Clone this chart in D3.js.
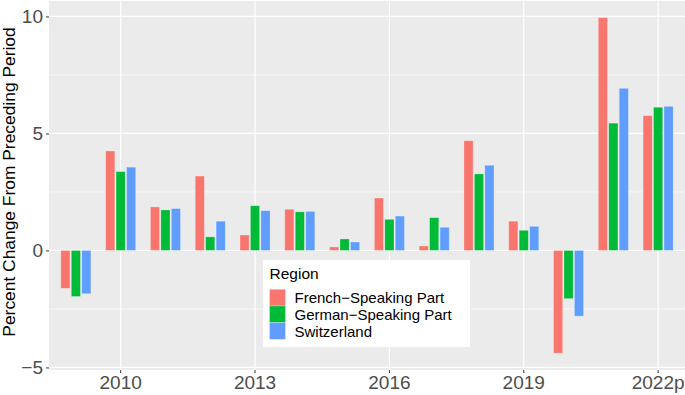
<!DOCTYPE html>
<html lang="en">
<head>
<meta charset="UTF-8">
<script src="https://d3js.org/d3.v7.min.js"></script>
<title>Percent Change by Region</title>
<style>
  body { margin: 0; background: #fff; }
  text { font-family: "Liberation Sans", Arial, sans-serif; }
</style>
</head>
<body>
<svg id="chart" width="685" height="395"></svg>
<script>
// data
var years = ["2009","2010","2011","2012","2013","2014","2015","2016","2017","2018","2019","2020","2021","2022p"];
var regions = ["French\u2212Speaking Part", "German\u2212Speaking Part", "Switzerland"];
var french = [-1.62, 4.25, 1.86, 3.18, 0.66, 1.76, 0.15, 2.24, 0.19, 4.69, 1.25, -4.39, 9.95, 5.76];
var german = [-1.97, 3.37, 1.73, 0.58, 1.91, 1.65, 0.49, 1.33, 1.40, 3.27, 0.86, -2.06, 5.44, 6.12];
var swiss  = [-1.85, 3.56, 1.79, 1.25, 1.70, 1.67, 0.36, 1.47, 0.99, 3.64, 1.03, -2.81, 6.93, 6.16];
var xTicks = ["2010","2013","2016","2019","2022p"];
var yTicks = [-5, 0, 5, 10];
var yMinor = [-2.5, 2.5, 7.5];
var colors = ["#F8766D", "#00BA38", "#619CFF"];

var series = [french, german, swiss];

var svg = d3.select("#chart");
var panel = {left: 49, right: 685, top: 1, bottom: 370};

var x = d3.scaleBand()
    .domain(years)
    .range([panel.left, panel.right])
    .paddingInner(0)
    .paddingOuter(0.1);

var dodge = x.bandwidth() * 0.7;
var x1 = d3.scaleBand()
    .domain(d3.range(regions.length))
    .range([-dodge / 2, dodge / 2])
    .paddingInner(0.12)
    .paddingOuter(0.06);

var y = d3.scaleLinear()
    .domain([-5.11, 10.66])
    .range([panel.bottom, panel.top]);

// panel background
svg.append("rect")
  .attr("x", panel.left).attr("y", panel.top)
  .attr("width", panel.right - panel.left)
  .attr("height", panel.bottom - panel.top)
  .attr("fill", "#EBEBEB");

// grid
var grid = svg.append("g");
grid.selectAll(".minor").data(yMinor).enter().append("line")
  .attr("x1", panel.left).attr("x2", panel.right)
  .attr("y1", d => y(d)).attr("y2", d => y(d))
  .attr("stroke", "#fff").attr("stroke-width", 0.6);
grid.selectAll(".major").data(yTicks).enter().append("line")
  .attr("x1", panel.left).attr("x2", panel.right)
  .attr("y1", d => y(d)).attr("y2", d => y(d))
  .attr("stroke", "#fff").attr("stroke-width", 1.2);
grid.selectAll(".vmajor").data(xTicks).enter().append("line")
  .attr("x1", d => x(d) + x.bandwidth() / 2).attr("x2", d => x(d) + x.bandwidth() / 2)
  .attr("y1", panel.top).attr("y2", panel.bottom)
  .attr("stroke", "#fff").attr("stroke-width", 1.2);

// bars
var rows = [];
years.forEach(function(yr, i) {
  series.forEach(function(s, j) {
    rows.push({year: yr, k: j, v: s[i]});
  });
});

svg.append("g").selectAll("rect")
  .data(rows).enter().append("rect")
  .attr("x", d => x(d.year) + x.bandwidth() / 2 + x1(d.k))
  .attr("width", x1.bandwidth())
  .attr("y", d => y(Math.max(0, d.v)))
  .attr("height", d => Math.abs(y(d.v) - y(0)))
  .attr("fill", d => colors[d.k])
  .attr("stroke", "#fff")
  .attr("stroke-opacity", 0.35)
  .attr("stroke-width", 0.8);

// axes
var xAxis = svg.append("g")
  .attr("transform", "translate(0," + panel.bottom + ")")
  .call(d3.axisBottom(x).tickValues(xTicks).tickSize(3).tickPadding(3));
xAxis.select(".domain").remove();
xAxis.selectAll(".tick line").attr("stroke", "#333").attr("stroke-width", 1);
xAxis.selectAll(".tick text").attr("fill", "#4D4D4D").attr("font-size", "19px");

var yAxis = svg.append("g")
  .attr("transform", "translate(" + panel.left + ",0)")
  .call(d3.axisLeft(y).tickValues(yTicks).tickSize(3).tickPadding(3)
    .tickFormat(d => d < 0 ? "\u2212" + Math.abs(d) : d));
yAxis.select(".domain").remove();
yAxis.selectAll(".tick line").attr("stroke", "#333").attr("stroke-width", 1);
yAxis.selectAll(".tick text").attr("fill", "#4D4D4D").attr("font-size", "19px");

svg.append("text")
  .attr("transform", "translate(14.5,182) rotate(-90)")
  .attr("text-anchor", "middle")
  .attr("font-size", "17.4px")
  .attr("fill", "#000")
  .text("Percent Change From Preceding Period");

// legend
var lg = svg.append("g").attr("transform", "translate(263,260)");
lg.append("rect")
  .attr("width", 207).attr("height", 87)
  .attr("fill", "#fff");
lg.append("text")
  .attr("x", 6.5).attr("y", 18.5)
  .attr("font-size", "15.5px").attr("fill", "#000")
  .text("Region");
var items = lg.selectAll(".item").data(regions).enter().append("g")
  .attr("transform", (d, i) => "translate(6.5," + (29.3 + i * 16.7) + ")");
items.append("rect")
  .attr("width", 16).attr("height", 16.7)
  .attr("fill", (d, i) => colors[i])
  .attr("stroke", "#fff").attr("stroke-opacity", 0.35).attr("stroke-width", 0.8);
items.append("text")
  .attr("x", 25).attr("y", 14)
  .attr("font-size", "15px").attr("fill", "#000")
  .text(d => d);
</script>
</body>
</html>
